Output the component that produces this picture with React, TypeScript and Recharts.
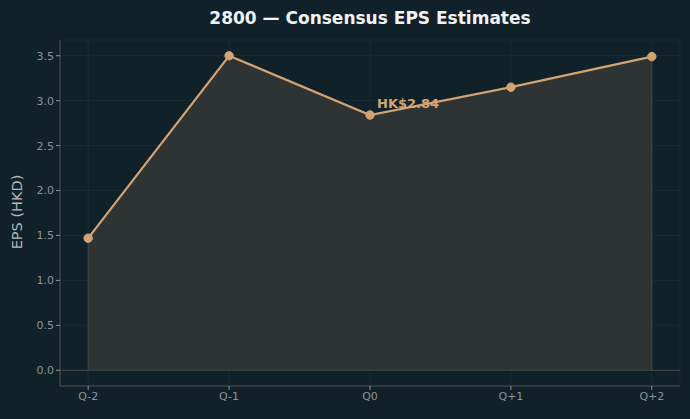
import {
  Area,
  CartesianGrid,
  ComposedChart,
  LabelList,
  Line,
  ReferenceLine,
  XAxis,
  YAxis,
} from "recharts";

const quarters = ["Q-2", "Q-1", "Q0", "Q+1", "Q+2"];
const eps = [1.47, 3.5, 2.84, 3.15, 3.49];
const yTicks = [0, 0.5, 1, 1.5, 2, 2.5, 3, 3.5];
const currentIdx = 2;

const BG = "#10212a";
const LINE = "#d4a373";
const AXIS_C = "#4d4f4f";
const TICK = { fill: "#8d9396", fontSize: 11, fontFamily: "DejaVu Sans" };

const data = quarters.map((q, i) => ({ x: i, q, eps: eps[i] }));
const last = quarters.length - 1;

function CurrentLabel(props: any) {
  const { x, y, index } = props;
  if (index !== currentIdx) return null;
  return (
    <text
      x={x + 7}
      y={y - 7}
      fill={LINE}
      fontSize={13}
      fontWeight="bold"
      fontFamily="DejaVu Sans"
    >
      {`HK$${eps[currentIdx].toFixed(2)}`}
    </text>
  );
}

export default function App() {
  return (
    <div style={{ position: "absolute", left: 0, top: 0, width: 690, height: 419, background: BG }}>
      <ComposedChart
        width={690}
        height={419}
        data={data}
        margin={{ top: 40, right: 10, bottom: 0, left: 0 }}
      >
        <text
          x={370}
          y={24}
          textAnchor="middle"
          fill="#f2f2f2"
          fontSize={17}
          fontWeight="bold"
          fontFamily="DejaVu Sans"
        >
          2800 — Consensus EPS Estimates
        </text>
        {/* y-axis title, drawn by hand so it sits centred on the plot */}
        <text
          x={22}
          y={212}
          transform="rotate(-90 22 212)"
          textAnchor="middle"
          fill="#b5b8b9"
          fontSize={14.5}
          fontFamily="DejaVu Sans"
        >
          EPS (HKD)
        </text>
        <CartesianGrid stroke="#1a2b33" strokeWidth={1} />
        <XAxis
          dataKey="x"
          type="number"
          domain={[-0.2, last + 0.2]}
          ticks={quarters.map((_, i) => i)}
          tickFormatter={(v: number) => quarters[v]}
          tick={TICK}
          height={33}
          stroke={AXIS_C}
          tickLine={{ stroke: "#8d9396" }}
          tickSize={4}
          allowDataOverflow
        />
        <YAxis
          type="number"
          domain={[-0.175, 3.675]}
          ticks={yTicks}
          tickFormatter={(v: number) => v.toFixed(1)}
          tick={TICK}
          width={60}
          stroke={AXIS_C}
          tickLine={{ stroke: "#8d9396" }}
          tickSize={4}
          allowDataOverflow
        />
        <Area
          dataKey="eps"
          type="linear"
          baseValue={0}
          fill="#2e3434"
          fillOpacity={1}
          stroke="none"
          isAnimationActive={false}
        />
        <ReferenceLine y={0} segment={[{ x: 0, y: 0 }, { x: last, y: 0 }]} stroke="#464944" />
        <ReferenceLine segment={[{ x: 0, y: 0 }, { x: 0, y: eps[0] }]} stroke="#464944" />
        <ReferenceLine segment={[{ x: last, y: 0 }, { x: last, y: eps[last] }]} stroke="#464944" />
        <Line
          dataKey="eps"
          type="linear"
          stroke={LINE}
          strokeWidth={2.2}
          dot={{ r: 4.2, fill: LINE, stroke: LINE, strokeWidth: 1 }}
          isAnimationActive={false}
        >
          <LabelList dataKey="eps" content={<CurrentLabel />} />
        </Line>
      </ComposedChart>
    </div>
  );
}
